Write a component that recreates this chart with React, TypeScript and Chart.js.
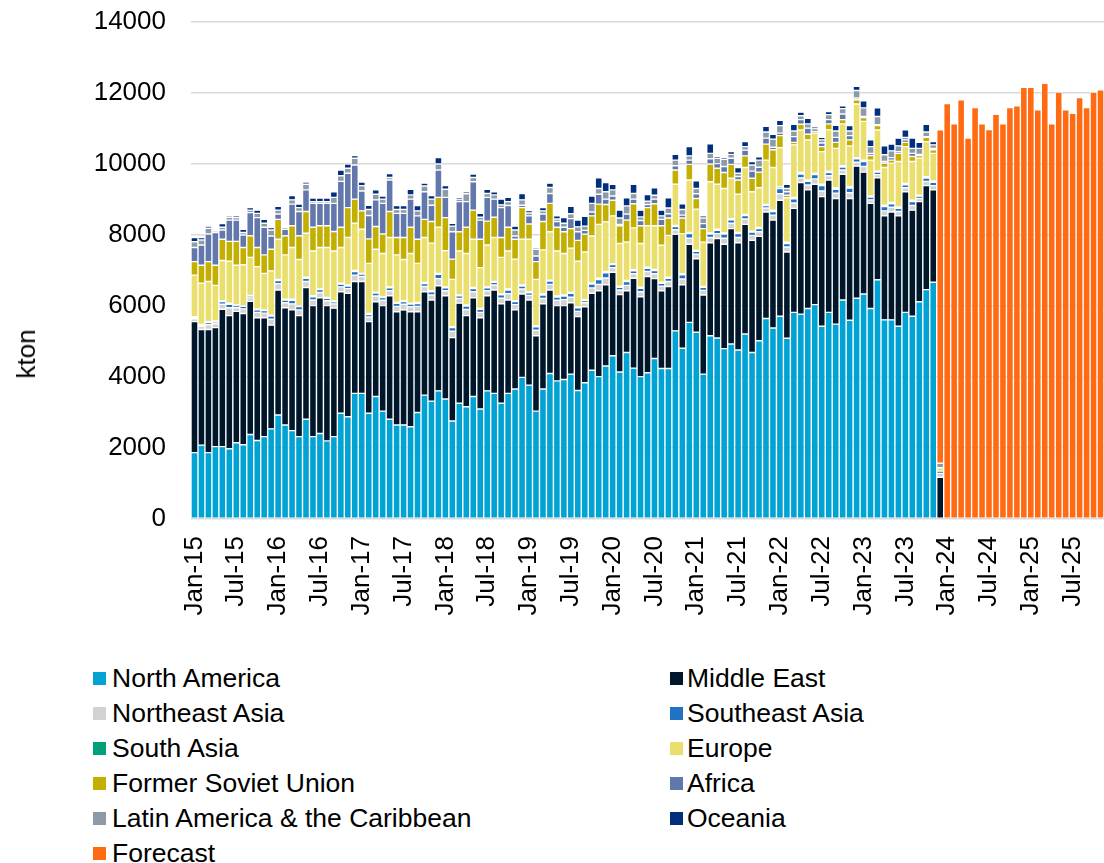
import React, { useEffect, useRef } from 'react';
import { Chart, registerables } from 'chart.js';

Chart.register(...registerables);

const FONT = '"Liberation Sans", Arial, sans-serif';

// ---------- categories ----------
const MONTHS = ['Jan', 'Feb', 'Mar', 'Apr', 'May', 'Jun', 'Jul', 'Aug', 'Sep', 'Oct', 'Nov', 'Dec'];
const YEARS = ['15', '16', '17', '18', '19', '20', '21', '22', '23', '24', '25'];
const CATEGORY_COUNT = 131; // Jan-15 .. Nov-25
const CATEGORIES: string[] = YEARS.flatMap((y) => MONTHS.map((m) => `${m}-${y}`)).slice(0, CATEGORY_COUNT);
const TICK_EVERY = 6;

const Y_MIN = 0;
const Y_MAX = 14000;
const Y_STEP = 2000;

// ---------- historical series (kton), Jan-15 .. Dec-23 ----------
const NORTH_AMERICA = [
  1870, 2080, 1870, 2040, 2040, 1980, 2150, 2090, 2380, 2210, 2320, 2540,
  2930, 2650, 2490, 2320, 2810, 2320, 2410, 2200, 2320, 2980, 2880, 3540,
  3540, 2980, 3450, 3040, 2810, 2650, 2650, 2600, 3000, 3490, 3320, 3610,
  3380, 2760, 3260, 3160, 3450, 3100, 3610, 3540, 3260, 3540, 3660, 3990,
  3770, 3040, 3660, 4100, 3890, 3930, 4080, 3620, 3840, 4190, 4010, 4310,
  4600, 4140, 4690, 4250, 4010, 4120, 4520, 4240, 4240, 5300, 4810, 5540,
  5260, 4080, 5160, 5100, 4800, 4930, 4760, 5210, 4690, 5020, 5650, 5380,
  5710, 5090, 5820, 5770, 5930, 6040, 5430, 5820, 5490, 6170, 5600, 6220,
  6340, 5930, 6740, 5610, 5610, 5430, 5820, 5710, 6120, 6460, 6670, 0,
];
const MIDDLE_EAST = [
  3690, 3260, 3470, 3350, 3870, 3750, 3700, 3700, 3750, 3460, 3350, 2920,
  3520, 3300, 3400, 3410, 3710, 3690, 3820, 3810, 3620, 3420, 3480, 3150,
  3150, 2580, 2670, 2970, 3480, 3190, 3240, 3240, 2840, 2910, 2850, 2960,
  2910, 2350, 2820, 2570, 2780, 2570, 2680, 2910, 2800, 2630, 2230, 2350,
  2400, 2120, 2400, 2350, 2120, 2080, 2010, 2080, 2140, 2170, 2420, 2290,
  2350, 2180, 1740, 2530, 2250, 2710, 2250, 2190, 2310, 2720, 1790, 2200,
  2070, 2230, 2620, 2800, 2940, 3250, 3020, 3090, 3160, 2940, 3000, 3040,
  3270, 2430, 2930, 3710, 3340, 3390, 3650, 3730, 3540, 3540, 3430, 3720,
  3430, 2960, 2870, 2930, 3040, 3110, 3400, 2990, 2820, 2930, 2600, 1175,
];
const NORTHEAST_ASIA = [
  80, 85, 130, 110, 140, 220, 100, 130, 100, 150, 130, 170,
  180, 140, 170, 160, 170, 160, 150, 140, 120, 140, 130, 180,
  140, 130, 160, 150, 140, 150, 160, 140, 150, 150, 140, 200,
  140, 180, 130, 170, 170, 150, 140, 140, 160, 180, 150, 140,
  130, 160, 150, 160, 150, 170, 160, 150, 110, 150, 180, 190,
  130, 130, 150, 130, 140, 140, 140, 130, 140, 130, 160, 170,
  130, 130, 150, 140, 170, 150, 150, 150, 140, 130, 110, 140,
  180, 140, 150, 130, 140, 150, 160, 120, 150, 120, 160, 110,
  160, 100, 90, 140, 130, 120, 110, 130, 90, 120, 120, 110,
];
const SOUTHEAST_ASIA = [
  45, 40, 65, 50, 75, 100, 60, 70, 50, 70, 70, 90,
  90, 75, 100, 95, 90, 90, 80, 70, 60, 75, 70, 100,
  70, 70, 85, 75, 85, 85, 75, 75, 80, 85, 90, 120,
  85, 100, 75, 100, 95, 85, 85, 75, 95, 100, 85, 85,
  75, 95, 100, 95, 90, 100, 110, 100, 65, 110, 135, 145,
  85, 80, 110, 80, 100, 90, 90, 80, 90, 90, 120, 130,
  80, 85, 100, 90, 120, 100, 110, 100, 90, 90, 70, 100,
  150, 100, 120, 110, 100, 120, 150, 90, 110, 85, 130, 95,
  140, 80, 70, 120, 100, 95, 85, 110, 65, 95, 95, 65,
];
const SOUTH_ASIA = [
  15, 15, 25, 30, 25, 30, 20, 20, 20, 20, 20, 20,
  30, 25, 30, 25, 30, 30, 20, 20, 20, 25, 30, 30,
  20, 30, 25, 25, 25, 25, 25, 25, 30, 25, 30, 30,
  25, 30, 25, 30, 25, 25, 25, 25, 25, 30, 25, 25,
  25, 25, 30, 25, 30, 30, 30, 30, 25, 30, 35, 35,
  25, 30, 30, 30, 30, 30, 30, 30, 30, 30, 30, 30,
  30, 25, 30, 30, 30, 30, 30, 30, 30, 30, 30, 40,
  50, 40, 40, 40, 40, 40, 40, 40, 40, 35, 40, 35,
  40, 30, 30, 40, 40, 35, 35, 40, 25, 35, 35, 0,
];
const EUROPE = [
  1170, 1160, 1130, 1000, 1130, 1180, 1120, 1150, 1070, 1200, 1030, 1250,
  1130, 1250, 1460, 1300, 1240, 1260, 1170, 1410, 1410, 1010, 1340, 1330,
  1240, 1410, 1210, 1220, 1390, 1340, 1160, 1400, 1100, 1270, 1340, 1300,
  1020, 1330, 1240, 1450, 1360, 1150, 1180, 1240, 1030, 1070, 1170, 1290,
  1480, 1310, 1240, 1360, 1270, 1170, 1240, 1280, 1340, 1320, 1520, 1400,
  1350, 1200, 1080, 1180, 1230, 1170, 1230, 1040, 1180, 1160, 1130, 1480,
  1160, 1250, 1440, 1270, 1250, 1140, 1080, 1320, 1110, 1120, 1250, 1200,
  1100, 1250, 1480, 1200, 1130, 1130, 920, 1160, 1110, 1180, 1150, 1510,
  1090, 1010, 1160, 1060, 1100, 1280, 1040, 1090, 1040, 990, 780, 95,
];
const FORMER_SOVIET_UNION = [
  380, 510, 560, 570, 600, 560, 670, 490, 610, 540, 520, 610,
  560, 540, 610, 670, 610, 670, 610, 610, 550, 570, 840, 680,
  520, 690, 640, 550, 730, 490, 620, 740, 680, 510, 610, 840,
  930, 570, 540, 740, 820, 800, 670, 570, 560, 670, 560, 890,
  430, 500, 800, 800, 670, 610, 550, 590, 500, 570, 570, 490,
  440, 500, 620, 680, 500, 510, 620, 550, 490, 400, 440, 440,
  300, 380, 500, 450, 450, 390, 400, 330, 380, 440, 450, 500,
  340, 70, 70, 160, 160, 50, 140, 170, 170, 120, 170, 120,
  110, 130, 120, 120, 90, 230, 120, 140, 80, 120, 100, 0,
];
const AFRICA = [
  400, 570, 780, 920, 260, 600, 600, 350, 650, 840, 780, 370,
  150, 180, 610, 680, 610, 670, 630, 630, 790, 1290, 970, 960,
  560, 660, 750, 860, 890, 680, 680, 790, 660, 780, 460, 770,
  570, 770, 850, 720, 800, 540, 670, 510, 840, 610, 90, 70,
  230, 160, 210, 280, 160, 130, 280, 240, 110, 110, 280, 150,
  120, 40, 170, 130, 150, 90, 130, 180, 120, 120, 80, 120,
  130, 140, 150, 130, 170, 170, 100, 160, 200, 140, 170, 70,
  70, 100, 160, 130, 170, 70, 100, 120, 140, 160, 120, 50,
  30, 60, 30, 50, 70, 50, 70, 90, 30, 20, 40, 0,
];
const LATIN_AMERICA = [
  160, 140, 160, 50, 80, 80, 70, 70, 70, 120, 110, 170,
  110, 60, 120, 110, 160, 50, 50, 50, 170, 160, 140, 190,
  150, 170, 160, 120, 70, 110, 110, 120, 140, 160, 170, 170,
  230, 160, 70, 220, 120, 80, 110, 120, 80, 110, 170, 150,
  80, 190, 90, 170, 70, 110, 140, 140, 120, 240, 160, 210,
  170, 180, 230, 160, 100, 90, 110, 100, 160, 160, 160, 120,
  150, 160, 150, 150, 200, 110, 90, 100, 170, 200, 170, 230,
  210, 90, 160, 110, 120, 70, 90, 140, 180, 150, 130, 210,
  240, 190, 230, 190, 190, 160, 70, 140, 170, 130, 100, 125,
];
const OCEANIA = [
  120, 70, 60, 40, 100, 50, 50, 90, 70, 90, 110, 70,
  110, 40, 120, 100, 60, 100, 100, 100, 160, 160, 120, 80,
  100, 120, 120, 90, 110, 110, 110, 160, 150, 80, 100, 180,
  100, 80, 50, 60, 100, 110, 120, 90, 160, 120, 110, 180,
  70, 50, 90, 120, 90, 160, 210, 190, 280, 210, 300, 260,
  160, 220, 230, 260, 190, 190, 210, 160, 290, 160, 160, 260,
  220, 60, 270, 60, 50, 80, 160, 140, 100, 90, 160, 140,
  150, 120, 190, 100, 160, 20, 70, 90, 160, 80, 150, 120,
  200, 190, 240, 250, 190, 220, 210, 290, 170, 220, 90, 0,
];

// ---------- forecast (kton), Dec-23 .. Nov-25 ----------
const FORECAST_START = 107;
const FORECAST = [
  9390, 11700, 11130, 11810, 10730, 11590, 11130, 10970, 11400, 11130, 11590, 11640,
  12160, 12160, 11530, 12270, 11130, 12030, 11530, 11430, 11870, 11590, 12030, 12090,
];

const SERIES = [
  { label: 'North America', color: '#00A3D3', data: NORTH_AMERICA, start: 0 },
  { label: 'Middle East', color: '#00172B', data: MIDDLE_EAST, start: 0 },
  { label: 'Northeast Asia', color: '#D2D2D2', data: NORTHEAST_ASIA, start: 0 },
  { label: 'Southeast Asia', color: '#1F72C4', data: SOUTHEAST_ASIA, start: 0 },
  { label: 'South Asia', color: '#00A07B', data: SOUTH_ASIA, start: 0 },
  { label: 'Europe', color: '#EADF6C', data: EUROPE, start: 0 },
  { label: 'Former Soviet Union', color: '#C3AF00', data: FORMER_SOVIET_UNION, start: 0 },
  { label: 'Africa', color: '#6278AC', data: AFRICA, start: 0 },
  { label: 'Latin America & the Caribbean', color: '#8D9AA8', data: LATIN_AMERICA, start: 0 },
  { label: 'Oceania', color: '#002F7E', data: OCEANIA, start: 0 },
  { label: 'Forecast', color: '#FF6A13', data: FORECAST, start: FORECAST_START },
];

// ---------- layout ----------
const PAGE_W = 1104;
const PAGE_H = 863;
const CANVAS_H = 650;
const PLOT_LEFT = 191;
const PLOT_TOP = 22;
const PLOT_BOTTOM = 519;
const TEXT_SIZE = 26;
const LEGEND_TEXT_SIZE = 26.5;
const LEGEND_TOP = 678;
const LEGEND_ROW = 35;
const LEGEND_COLS = [{ box: 93, text: 112 }, { box: 670, text: 687 }];

export default function App() {
  const canvasRef = useRef<HTMLCanvasElement | null>(null);

  useEffect(() => {
    const canvas = canvasRef.current;
    if (!canvas) return;
    Chart.defaults.font.family = FONT;
    const datasets = SERIES.map((s) => ({
      label: s.label,
      backgroundColor: s.color,
      borderColor: '#ffffff',
      borderWidth: 0.7,
      borderSkipped: false as const,
      inflateAmount: 0,
      stack: 'total',
      data: CATEGORIES.map((_, i) => {
        const j = i - s.start;
        return j >= 0 && j < s.data.length ? s.data[j] : null;
      }),
    }));

    const chart = new Chart(canvas, {
      type: 'bar',
      data: { labels: CATEGORIES, datasets },
      options: {
        animation: false,
        responsive: false,
        devicePixelRatio: 1,
        layout: { padding: { top: PLOT_TOP, right: 0, bottom: 0, left: 0 } },
        datasets: { bar: { categoryPercentage: 1, barPercentage: 1 } },
        plugins: { legend: { display: false }, tooltip: { enabled: false } },
        scales: {
          x: {
            stacked: true,
            offset: true,
            grid: { display: false, drawTicks: false },
            border: { display: false },
            ticks: {
              autoSkip: false,
              minRotation: 90,
              maxRotation: 90,
              padding: 17,
              color: '#000000',
              font: { size: TEXT_SIZE, family: FONT },
              callback: (_v: any, i: number) => (i % TICK_EVERY === 0 ? CATEGORIES[i] : ''),
            },
            afterFit: (scale: any) => {
              scale.height = CANVAS_H - PLOT_BOTTOM;
              scale.paddingLeft = 0;
              scale.paddingRight = 0;
            },
          },
          y: {
            stacked: true,
            min: Y_MIN,
            max: Y_MAX,
            grid: { color: '#D9D9D9', lineWidth: 1.5, drawTicks: false },
            border: { display: false },
            ticks: {
              stepSize: Y_STEP,
              padding: 25,
              color: '#000000',
              font: { size: TEXT_SIZE, family: FONT },
              callback: (v: any) => String(v),
            },
            afterFit: (scale: any) => {
              scale.width = PLOT_LEFT;
              scale.paddingTop = 0;
              scale.paddingBottom = 0;
            },
          },
        },
      },
    });
    return () => chart.destroy();
  }, []);

  return (
    <div
      style={{
        position: 'absolute',
        left: 0,
        top: 0,
        width: PAGE_W,
        height: PAGE_H,
        background: '#ffffff',
        fontFamily: FONT,
        color: '#000000',
        overflow: 'hidden',
      }}
    >
      <canvas
        ref={canvasRef}
        width={PAGE_W}
        height={CANVAS_H}
        style={{ position: 'absolute', left: 0, top: 0, width: PAGE_W, height: CANVAS_H }}
      />
      <div
        style={{
          position: 'absolute',
          left: 26,
          top: 354,
          transform: 'translate(-50%, -50%) rotate(-90deg)',
          fontSize: TEXT_SIZE,
          whiteSpace: 'nowrap',
          lineHeight: 1,
        }}
      >
        kton
      </div>
      {SERIES.map((s, i) => {
        const col = LEGEND_COLS[i % 2];
        const rowCenter = LEGEND_TOP + LEGEND_ROW * Math.floor(i / 2);
        return (
          <div key={s.label}>
            <div
              style={{
                position: 'absolute',
                left: col.box,
                top: rowCenter - 6,
                width: 13,
                height: 13,
                background: s.color,
              }}
            />
            <div
              style={{
                position: 'absolute',
                left: col.text,
                top: rowCenter - LEGEND_ROW / 2,
                height: LEGEND_ROW,
                display: 'flex',
                alignItems: 'center',
                fontSize: LEGEND_TEXT_SIZE,
                whiteSpace: 'nowrap',
              }}
            >
              {s.label}
            </div>
          </div>
        );
      })}
    </div>
  );
}
